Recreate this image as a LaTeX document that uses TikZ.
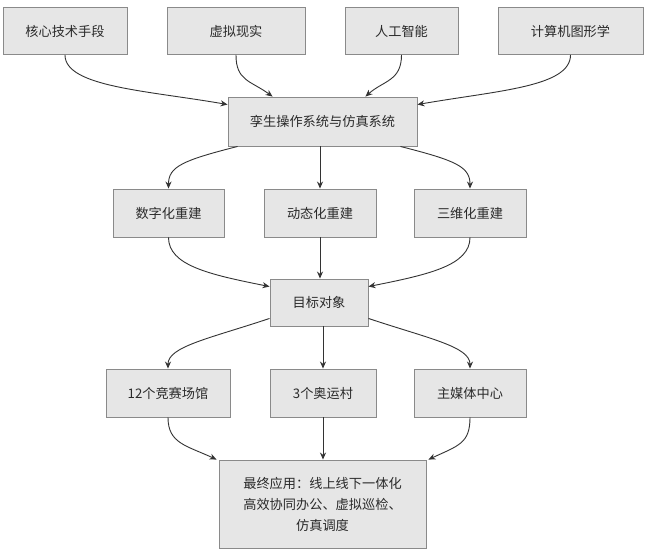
\documentclass[tikz,border=0pt]{standalone}
\usepackage{fontspec}
\setmainfont{Noto Sans CJK SC}
\usetikzlibrary{arrows.meta,calc}
\definecolor{boxfill}{HTML}{E6E6E6}
\definecolor{boxline}{HTML}{8A8A8A}
\definecolor{txt}{HTML}{2A2A2A}
\definecolor{edge}{HTML}{333333}
\begin{document}
\begin{tikzpicture}[x=1pt,y=-1pt,
  box/.style={draw=boxline,fill=boxfill,line width=0.9pt,inner sep=0pt,
    minimum height=47pt,text=txt,font=\fontsize{13.2}{21}\selectfont,align=center},
  conn/.style={draw=edge,line width=0.9pt,-{Stealth[length=7pt,width=6pt]}}]
\fill[white] (0,0) rectangle (645,550);
\useasboundingbox (0,0) rectangle (645,550);
% top row
\node[box,minimum width=124pt] (t1) at (65,31) {核心技术手段};
\node[box,minimum width=138pt] (t2) at (236,31) {虚拟现实};
\node[box,minimum width=113pt] (t3) at (401.5,31) {人工智能};
\node[box,minimum width=145pt] (t4) at (570.5,31) {计算机图形学};
% system
\node[box,minimum width=189pt,minimum height=49pt] (sys) at (322.5,121.5) {孪生操作系统与仿真系统};
% middle row
\node[box,minimum width=111pt,minimum height=48pt] (m1) at (168.5,213) {数字化重建};
\node[box,minimum width=112pt,minimum height=48pt] (m2) at (320,213) {动态化重建};
\node[box,minimum width=112pt,minimum height=48pt] (m3) at (470,213) {三维化重建};
% object
\node[box,minimum width=98pt] (obj) at (319,302.5) {目标对象};
% bottom row
\node[box,minimum width=124pt,minimum height=48pt] (b1) at (168,393) {12个竞赛场馆};
\node[box,minimum width=106pt,minimum height=48pt] (b2) at (323,393) {3个奥运村};
\node[box,minimum width=112pt,minimum height=48pt] (b3) at (470,393) {主媒体中心};
% final
\node[box,minimum width=207pt,minimum height=88pt] (fin) at (322.5,504) {最终应用：线上线下一体化\\高效协同办公、虚拟巡检、\\仿真调度};
% connectors top -> sys
\draw[conn] (t1.south) .. controls +(0,32) and +(-80,-14) .. ([yshift=-8pt]sys.north west);
\draw[conn] (t2.south) .. controls +(0,26) and +(-22,-16) .. ([xshift=45pt]sys.north west);
\draw[conn] (t3.south) .. controls +(0,26) and +(18,-16) .. ([xshift=-52pt]sys.north east);
\draw[conn] (t4.south) .. controls +(0,32) and +(80,-14) .. ([yshift=-8pt]sys.north east);
% sys -> middle
\draw[conn] ([xshift=10pt]sys.south west) .. controls +(-55,14) and +(0,-22) .. (m1.north);
\draw[conn] (sys.south -| m2.north) -- (m2.north);
\draw[conn] ([xshift=-17pt]sys.south east) .. controls +(55,14) and +(0,-22) .. (m3.north);
% middle -> obj
\draw[conn] (m1.south) .. controls +(0,28) and +(-60,-12) .. ([yshift=-8pt]obj.north west);
\draw[conn] (m2.south) -- (m2.south |- obj.north);
\draw[conn] (m3.south) .. controls +(0,28) and +(60,-12) .. ([yshift=-8pt]obj.north east);
% obj -> bottom
\draw[conn] ([yshift=8pt]obj.south west) .. controls +(-60,20) and +(0,-22) .. (b1.north);
\draw[conn] (obj.south -| b2.north) -- (b2.north);
\draw[conn] ([yshift=8pt]obj.south east) .. controls +(60,20) and +(0,-22) .. (b3.north);
% bottom -> final
\draw[conn] (b1.south) .. controls +(0,26) and +(-30,-14) .. ([xshift=-2pt]fin.north west);
\draw[conn] (b2.south) -- (b2.south |- fin.north);
\draw[conn] (b3.south) .. controls +(0,26) and +(30,-14) .. ([xshift=2pt]fin.north east);
\end{tikzpicture}
\end{document}
